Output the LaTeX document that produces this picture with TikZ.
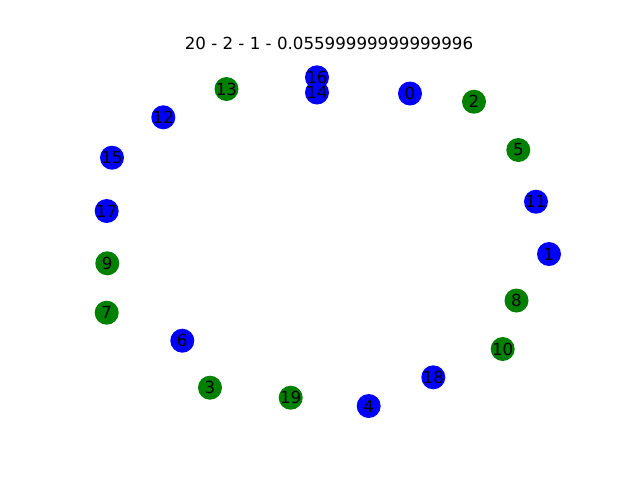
\documentclass[tikz,border=0pt]{standalone}
\usepackage{fontspec}
\setmainfont{DejaVu Sans}
\definecolor{mplblue}{rgb}{0,0,1}
\definecolor{mplgreen}{rgb}{0,0.5019,0}
\begin{document}
\begin{tikzpicture}[x=0.75pt,y=-0.75pt,
  vtx/.style={circle,minimum size=18pt,inner sep=0pt,font=\fontsize{12.5}{14}\selectfont,text=black},
  bv/.style={vtx,fill=mplblue},
  gv/.style={vtx,fill=mplgreen}]
\useasboundingbox (0,0) rectangle (640,480);
\node[anchor=base,font=\fontsize{12.5}{14}\selectfont] (title) at (329,49) {20 - 2 - 1 - 0.05599999999999996};
\node[bv] (n16) at (317,77.3) {};
\node[bv] (n14) at (317,92.5) {};
\node[bv] (n0) at (410,93.5) {};
\node[gv] (n2) at (474,101.7) {};
\node[gv] (n5) at (518.3,150) {};
\node[bv] (n11) at (536,201.7) {};
\node[bv] (n1) at (549,254) {};
\node[gv] (n8) at (516.5,300.5) {};
\node[gv] (n10) at (502.7,349) {};
\node[bv] (n18) at (433.3,377.3) {};
\node[bv] (n4) at (368.7,406) {};
\node[gv] (n19) at (290.7,397.7) {};
\node[gv] (n3) at (210,387.7) {};
\node[bv] (n6) at (182.3,340.7) {};
\node[gv] (n7) at (106.7,312.7) {};
\node[gv] (n9) at (107.3,263.3) {};
\node[bv] (n17) at (106.7,211) {};
\node[bv] (n15) at (112,157.7) {};
\node[bv] (n12) at (163.3,117.3) {};
\node[gv] (n13) at (226.5,89) {};
\foreach \n in {16,14,0,2,5,11,1,8,10,18,4,19,3,6,7,9,17,15,12,13}
  \node[font=\fontsize{12.5}{14}\selectfont] at (n\n) {\n};
\end{tikzpicture}
\end{document}
